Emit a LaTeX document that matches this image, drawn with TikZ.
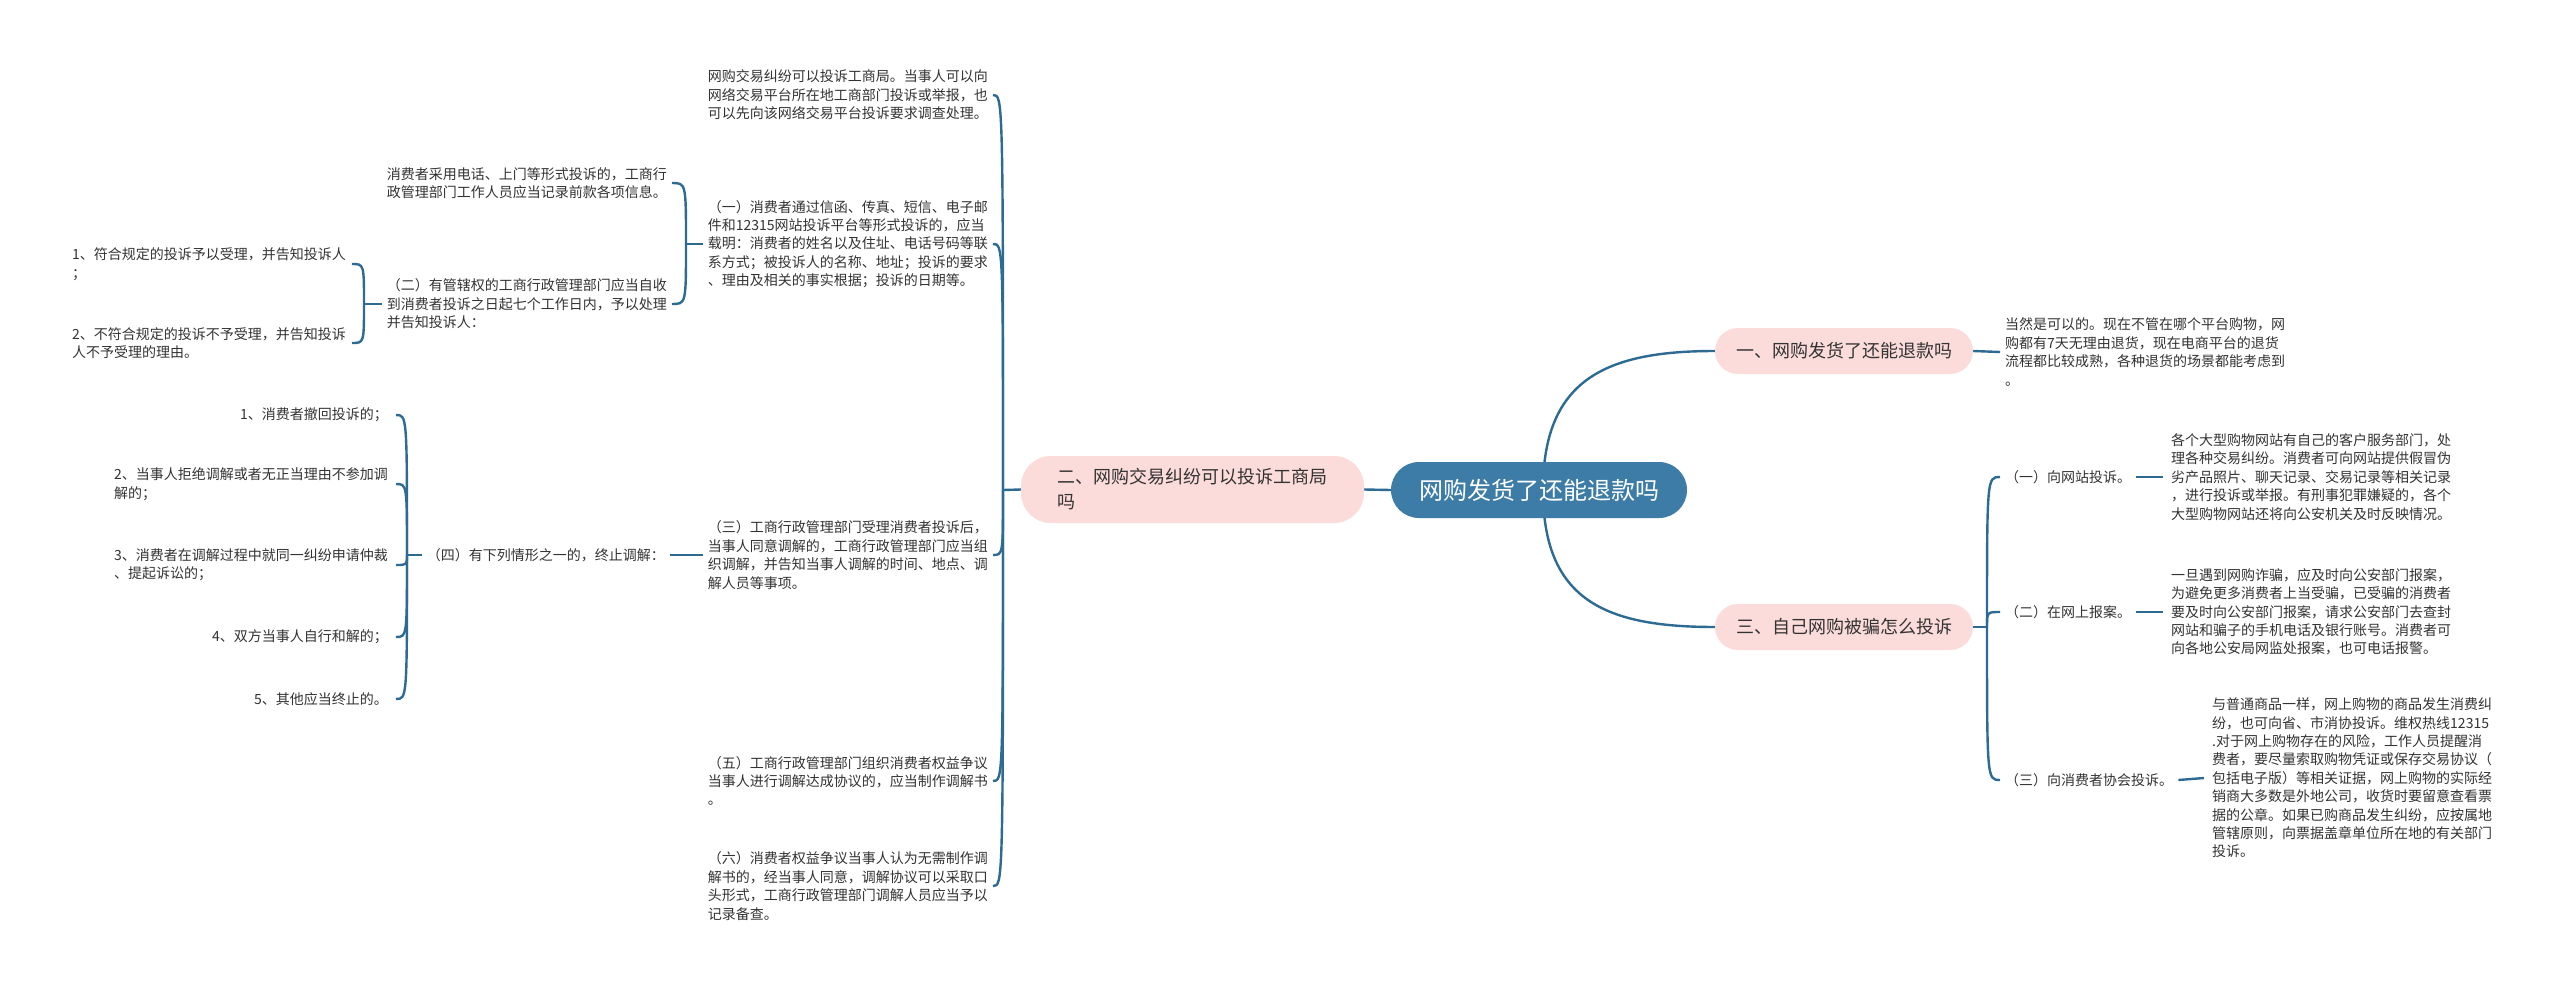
\documentclass[tikz,border=0pt]{standalone}
\usepackage{fontspec}
\setmainfont{Noto Sans CJK SC}
\usetikzlibrary{backgrounds,calc}
\definecolor{linec}{HTML}{2E6B92}
\definecolor{rootc}{HTML}{3D7CA6}
\definecolor{pinkc}{HTML}{FBDCDA}
\definecolor{txtc}{HTML}{333333}
\begin{document}
\begin{tikzpicture}[x=1pt,y=-1pt,
  conn/.style={draw=linec,line width=2.4pt},
  txt/.style={align=left,inner xsep=5pt,inner ysep=1pt,text=txtc,font=\fontsize{14pt}{18.4pt}\selectfont},
  pinkbox/.style={fill=pinkc,rounded corners=23pt,text=txtc,font=\fontsize{18pt}{25pt}\selectfont,minimum width=258pt,minimum height=46pt,inner sep=0pt},
  rootbox/.style={fill=rootc,rounded corners=28pt,text=white,font=\fontsize{24pt}{28pt}\selectfont,minimum width=296pt,minimum height=56pt,inner sep=0pt}]
\useasboundingbox (0,0) rectangle (2560,988);

% main nodes
\node[rootbox] (root) at (1539,490) {网购发货了还能退款吗};
\node[pinkbox,minimum width=343pt,minimum height=67pt,rounded corners=30pt,align=left] (n2) at (1192.5,489.5) {二、网购交易纠纷可以投诉工商局\\吗};
\node[pinkbox] (n1) at (1844,351) {一、网购发货了还能退款吗};
\node[pinkbox] (n3) at (1844,627) {三、自己网购被骗怎么投诉};

% right side
\node[txt,anchor=west] (r1) at (2000,352) {当然是可以的。现在不管在哪个平台购物，网\\购都有7天无理由退货，现在电商平台的退货\\流程都比较成熟，各种退货的场景都能考虑到\\。};
\coordinate (j3) at (1987,627);
\node[txt,anchor=west] (l1) at (2000,477) {（一）向网站投诉。};
\node[txt,anchor=west] (l2) at (2000,612) {（二）在网上报案。};
\node[txt,anchor=west] (l3) at (2000,780) {（三）向消费者协会投诉。};
\node[txt,anchor=west,inner xsep=8pt] (t1) at (2163,477) {各个大型购物网站有自己的客户服务部门，处\\理各种交易纠纷。消费者可向网站提供假冒伪\\劣产品照片、聊天记录、交易记录等相关记录\\，进行投诉或举报。有刑事犯罪嫌疑的，各个\\大型购物网站还将向公安机关及时反映情况。};
\node[txt,anchor=west,inner xsep=8pt] (t2) at (2163,612) {一旦遇到网购诈骗，应及时向公安部门报案，\\为避免更多消费者上当受骗，已受骗的消费者\\要及时向公安部门报案，请求公安部门去查封\\网站和骗子的手机电话及银行账号。消费者可\\向各地公安局网监处报案，也可电话报警。};
\node[txt,anchor=west,inner xsep=8pt] (t3) at (2204,778) {与普通商品一样，网上购物的商品发生消费纠\\纷，也可向省、市消协投诉。维权热线12315\\.对于网上购物存在的风险，工作人员提醒消\\费者，要尽量索取购物凭证或保存交易协议（\\包括电子版）等相关证据，网上购物的实际经\\销商大多数是外地公司，收货时要留意查看票\\据的公章。如果已购商品发生纠纷，应按属地\\管辖原则，向票据盖章单位所在地的有关部门\\投诉。};

% left side
\coordinate (j2) at (1003,490);
\node[txt,anchor=east] (c1) at (993,95) {网购交易纠纷可以投诉工商局。当事人可以向\\网络交易平台所在地工商部门投诉或举报，也\\可以先向该网络交易平台投诉要求调查处理。};
\node[txt,anchor=east] (c2) at (993,244) {（一）消费者通过信函、传真、短信、电子邮\\件和12315网站投诉平台等形式投诉的，应当\\载明：消费者的姓名以及住址、电话号码等联\\系方式；被投诉人的名称、地址；投诉的要求\\、理由及相关的事实根据；投诉的日期等。};
\node[txt,anchor=east] (c3) at (993,555) {（三）工商行政管理部门受理消费者投诉后，\\当事人同意调解的，工商行政管理部门应当组\\织调解，并告知当事人调解的时间、地点、调\\解人员等事项。};
\node[txt,anchor=east] (c5) at (993,781) {（五）工商行政管理部门组织消费者权益争议\\当事人进行调解达成协议的，应当制作调解书\\。};
\node[txt,anchor=east] (c6) at (993,886) {（六）消费者权益争议当事人认为无需制作调\\解书的，经当事人同意，调解协议可以采取口\\头形式，工商行政管理部门调解人员应当予以\\记录备查。};
\coordinate (j1) at (686,244);
\node[txt,anchor=east] (c2a) at (672,183) {消费者采用电话、上门等形式投诉的，工商行\\政管理部门工作人员应当记录前款各项信息。};
\node[txt,anchor=east] (c2b) at (672,304) {（二）有管辖权的工商行政管理部门应当自收\\到消费者投诉之日起七个工作日内，予以处理\\并告知投诉人：};
\coordinate (j2b) at (364,304);
\node[txt,anchor=east,inner xsep=6pt] (a1) at (352,264) {1、符合规定的投诉予以受理，并告知投诉人\\；};
\node[txt,anchor=east,inner xsep=6pt] (a2) at (352,343) {2、不符合规定的投诉不予受理，并告知投诉\\人不予受理的理由。};
\node[txt,anchor=east] (c4) at (670,555) {（四）有下列情形之一的，终止调解：};
\coordinate (j4) at (407,555);
\node[txt,anchor=east,inner xsep=8pt] (b1) at (396,415) {1、消费者撤回投诉的；};
\node[txt,anchor=east,inner xsep=8pt] (b2) at (396,484) {2、当事人拒绝调解或者无正当理由不参加调\\解的；};
\node[txt,anchor=east,inner xsep=8pt] (b3) at (396,565) {3、消费者在调解过程中就同一纠纷申请仲裁\\、提起诉讼的；};
\node[txt,anchor=east,inner xsep=8pt] (b4) at (396,637) {4、双方当事人自行和解的；};
\node[txt,anchor=east,inner xsep=8pt] (b5) at (396,699) {5、其他应当终止的。};

\begin{scope}[on background layer]
\fill[white] (0,0) rectangle (2560,988);
% root connectors
\draw[conn] (root.west) -- (n2.east);
\draw[conn] ($(root.center)+(4,0)$) .. controls ($(root.center)+(4,-110)$) and ($(n1.west)+(-110,0)$) .. (n1.west);
\draw[conn] ($(root.center)+(4,0)$) .. controls ($(root.center)+(4,110)$) and ($(n3.west)+(-110,0)$) .. (n3.west);
% right
\draw[conn] (n1.east) -- (r1.west);
\draw[conn] (n3.east) -- (j3);
\foreach \c in {l1,l2,l3}{\draw[conn] (j3) .. controls (j3 |- \c.west) .. (\c.west);}
\draw[conn] (l1.east) -- (t1.west);
\draw[conn] (l2.east) -- (t2.west);
\draw[conn] (l3.east) -- (t3.west);
% left
\draw[conn] (n2.west) -- (j2);
\foreach \c in {c1,c2,c3,c5,c6}{\draw[conn] (j2) .. controls (j2 |- \c.east) .. (\c.east);}
\draw[conn] (c2.west) -- (j1);
\foreach \c in {c2a,c2b}{\draw[conn] (j1) .. controls (j1 |- \c.east) .. (\c.east);}
\draw[conn] (c2b.west) -- (j2b);
\foreach \c in {a1,a2}{\draw[conn] (j2b) .. controls (j2b |- \c.east) .. (\c.east);}
\draw[conn] (c3.west) -- (c4.east);
\draw[conn] (c4.west) -- (j4);
\foreach \c in {b1,b2,b3,b4,b5}{\draw[conn] (j4) .. controls (j4 |- \c.east) .. (\c.east);}
\end{scope}
\end{tikzpicture}
\end{document}
